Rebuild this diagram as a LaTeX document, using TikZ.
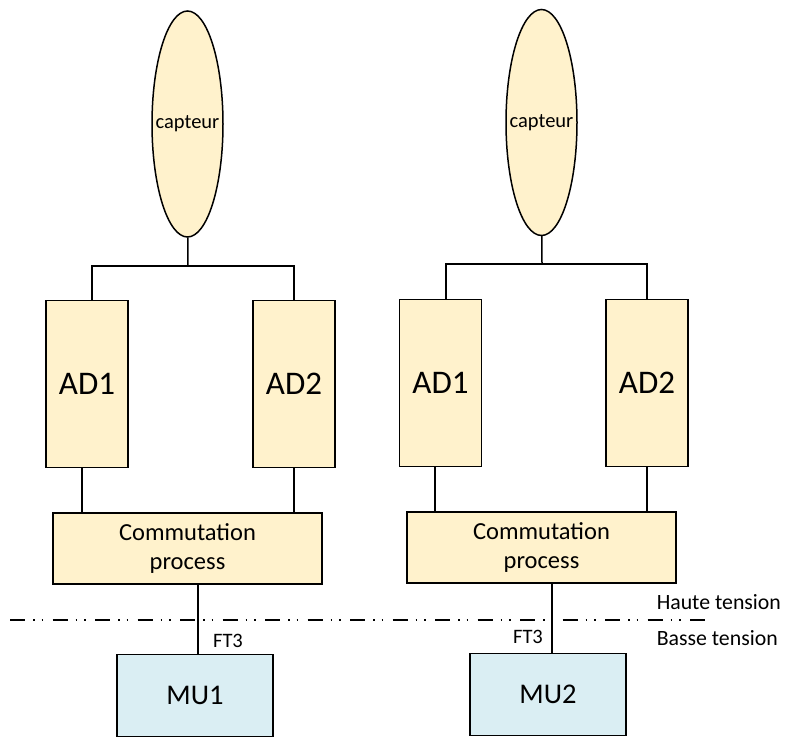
\documentclass[tikz,border=0pt]{standalone}
\usepackage{fontspec}
\setmainfont{Carlito}
\usepackage{tikz}
\usetikzlibrary{shapes.geometric}
\definecolor{paleyellow}{RGB}{255,242,204}
\definecolor{paleblue}{RGB}{218,238,243}

\begin{document}
\begin{tikzpicture}[x=1pt, y=1pt, line width=1.5pt]
    \tikzstyle{sensor} = [ellipse, minimum width=71pt, minimum height=226pt, inner sep=0pt, draw=black, fill=paleyellow, font=\fontsize{20.5}{24}\selectfont]
    \tikzstyle{converter} = [rectangle, minimum width=82pt, minimum height=167pt, inner sep=0pt, draw=black, fill=paleyellow, font=\fontsize{33}{40}\selectfont]
    \tikzstyle{switching} = [rectangle, minimum width=269pt, minimum height=71pt, inner sep=0pt, align=center, draw=black, fill=paleyellow, font=\fontsize{24.5}{29}\selectfont]
    \tikzstyle{merging} = [rectangle, minimum width=156pt, minimum height=82pt, inner sep=0pt, draw=black, fill=paleblue, font=\fontsize{28.5}{34}\selectfont]
    \tikzstyle{tag} = [inner sep=0pt, font=\fontsize{20.5}{24}\selectfont]
    \tikzstyle{zone} = [inner sep=0pt, anchor=west, font=\fontsize{21.8}{25}\selectfont]
    \tikzstyle{boundary} = [line width=2pt, dash pattern=on 15pt off 8pt on 1.5pt off 7pt on 1.5pt off 9.5pt]

    \useasboundingbox (0,0) rectangle (787,-738);

    % Sensors
    \node [sensor] (capteur_left) at (187.5,-124) {\makebox[0pt]{capteur}};
    \node [sensor] (capteur_right) at (541.5,-122.5) {\makebox[0pt]{capteur}};

    % Converters
    \node [converter] (ad1_left) at (87,-384) {AD1};
    \node [converter] (ad2_left) at (294,-384) {AD2};
    \node [converter] (ad1_right) at (440.5,-383) {AD1};
    \node [converter] (ad2_right) at (647,-383) {AD2};

    % Switching
    \node [switching] (comm_left) at (187.5,-548.5) {Commutation\\process};
    \node [switching] (comm_right) at (541.5,-547.5) {Commutation\\process};

    % Merging units
    \node [merging] (mu_one) at (195,-695.5) {MU1};
    \node [merging] (mu_two) at (548,-694.5) {MU2};

    % Sensor buses
    \coordinate (bus_left) at (188,-266);
    \coordinate (bus_right) at (542,-264);
    \draw (capteur_left) -- (bus_left);
    \draw ([xshift=5pt]ad1_left.north) |- (bus_left) -| (ad2_left.north);
    \draw (capteur_right) -- (bus_right);
    \draw ([xshift=5.5pt]ad1_right.north) |- (bus_right) -| (ad2_right.north);

    % Converters to switching
    \draw ([xshift=-5pt]ad1_left.south) -- ([xshift=-5pt]ad1_left.south |- comm_left.north);
    \draw (ad2_left.south) -- (ad2_left.south |- comm_left.north);
    \draw ([xshift=-5.5pt]ad1_right.south) -- ([xshift=-5.5pt]ad1_right.south |- comm_right.north);
    \draw (ad2_right.south) -- (ad2_right.south |- comm_right.north);

    % Voltage boundary
    \coordinate (hv_start) at (10,-620);
    \coordinate (hv_end) at (712,-620);
    \draw [boundary] (hv_start) -- (hv_end);
    \node [zone] (haute) at (656,-602) {Haute tension};
    \node [zone] (basse) at (656,-638) {Basse tension};

    % Switching to merging units
    \draw ([xshift=3pt]mu_one.north) -- ([xshift=3pt]mu_one.north |- comm_left.south);
    \draw ([xshift=4pt]mu_two.north) -- ([xshift=4pt]mu_two.north |- comm_right.south);
    \node [tag] (ft_left) at (228,-641) {FT3};
    \node [tag] (ft_right) at (528,-637) {FT3};
\end{tikzpicture}
\end{document}
